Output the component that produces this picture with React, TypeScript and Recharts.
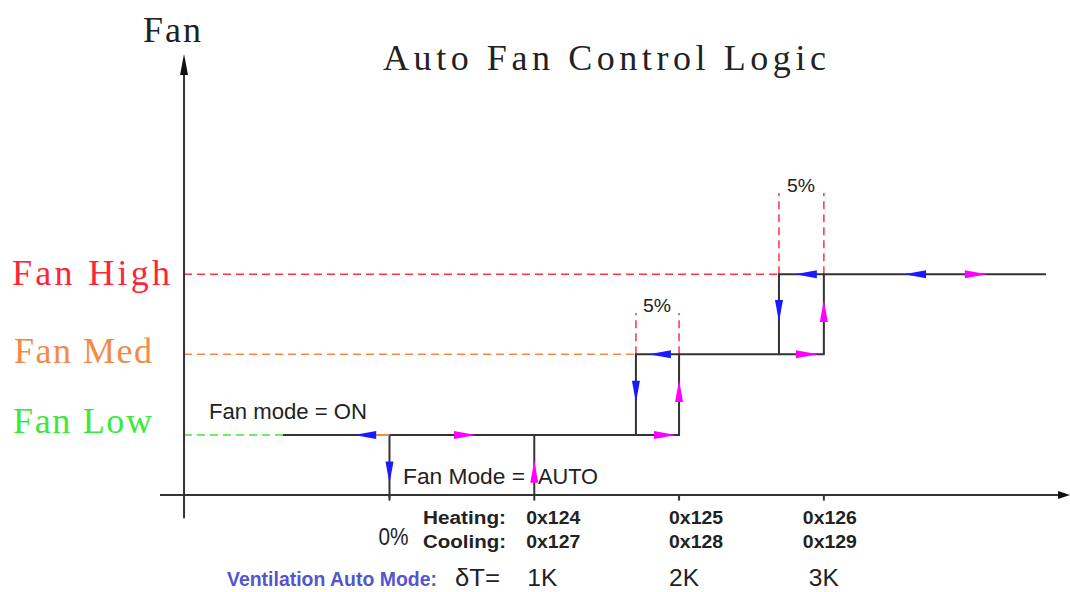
import React from "react";
import { LineChart, Line, XAxis, YAxis, ReferenceLine, ReferenceDot } from "recharts";

// fan levels (y) and switching points (x, in K of deltaT)
const LOW = 0.75;
const MED = 1.76;
const HIGH = 2.76;
const Y_AXIS_X = -1.419;
const HYST_MED = 1.702;
const HYST_HIGH = 2.69;

const levelNames = ["Fan Low", "Fan Med", "Fan High"];
const levelValues = [LOW, MED, HIGH];
const levelColors = ["#3ce83c", "#f58a48", "#ff2438"];

const tickValues = [0, 1, 2, 3];
const heatingRegs = ["0x124", "0x125", "0x126"];
const coolingRegs = ["0x127", "0x128", "0x129"];
const deltaLabels = ["1K", "2K", "3K"];

// black step paths
const onPath = [
    { x: -0.735, y: LOW }, { x: 2, y: LOW }, { x: 2, y: MED },
    { x: 3, y: MED }, { x: 3, y: HIGH }, { x: 4.534, y: HIGH },
];
const medDownPath = [{ x: HYST_MED, y: LOW }, { x: HYST_MED, y: MED }, { x: 2, y: MED }];
const highDownPath = [{ x: HYST_HIGH, y: MED }, { x: HYST_HIGH, y: HIGH }, { x: 3, y: HIGH }];
const autoOffPath = [{ x: 0, y: LOW }, { x: 0, y: -0.03 }];
const autoOnPath = [{ x: 1, y: 0 }, { x: 1, y: LOW }];
const orangeBit = [{ x: -0.093, y: LOW }, { x: 0, y: LOW }];
const xAxisPath = [{ x: -1.585, y: 0 }, { x: 4.63, y: 0 }];
const yAxisPath = [{ x: Y_AXIS_X, y: -0.29 }, { x: Y_AXIS_X, y: 5.26 }];

const blueArrows = [
    { x: -0.168, y: LOW, dir: "left" },
    { x: 0, y: 0.28, dir: "down" },
    { x: HYST_MED, y: 1.29, dir: "down" },
    { x: 1.868, y: MED, dir: "left" },
    { x: HYST_HIGH, y: 2.3, dir: "down" },
    { x: 2.876, y: HIGH, dir: "left" },
    { x: 3.63, y: HIGH, dir: "left" },
];
const magentaArrows = [
    { x: 0.521, y: LOW, dir: "right" },
    { x: 1, y: 0.29, dir: "up" },
    { x: 1.903, y: LOW, dir: "right" },
    { x: 2, y: 1.3, dir: "up" },
    { x: 2.883, y: MED, dir: "right" },
    { x: 3, y: 2.3, dir: "up" },
    { x: 4.05, y: HIGH, dir: "right" },
];

const SERIF = "'Liberation Serif', 'DejaVu Serif', serif";
const SANS = "'Liberation Sans', Arial, sans-serif";

function Arrow({ cx, cy, dir, color, len = 22, half = 4 }: any) {
    const l = len / 2;
    let pts = "";
    if (dir === "right") pts = `${cx + l},${cy} ${cx - l},${cy - half} ${cx - l},${cy + half}`;
    if (dir === "left") pts = `${cx - l},${cy} ${cx + l},${cy - half} ${cx + l},${cy + half}`;
    if (dir === "up") pts = `${cx},${cy - l} ${cx - half},${cy + l} ${cx + half},${cy + l}`;
    if (dir === "down") pts = `${cx},${cy + l} ${cx - half},${cy - l} ${cx + half},${cy - l}`;
    return <polygon points={pts} fill={color} />;
}

const labelOffsets = [-8, -10, -21];
const deltaOffsets = [-7, -10, -15];

export default function App() {
    const lineProps = {
        dataKey: "y",
        stroke: "#333",
        strokeWidth: 2,
        dot: false,
        activeDot: false,
        isAnimationActive: false,
        type: "linear" as const,
    };
    const dash = { strokeDasharray: "8 5", strokeWidth: 1.5, ifOverflow: "visible" as const };

    return (
        <div style={{ position: "absolute", left: 0, top: 0, width: 1070, height: 592, background: "#fff" }}>
            <LineChart width={1070} height={592} margin={{ top: 0, right: 0, bottom: 0, left: 0 }}>
                <XAxis dataKey="x" type="number" domain={[-2.69, 4.7]} allowDataOverflow hide />
                <YAxis type="number" domain={[-1.2125, 6.1875]} allowDataOverflow hide />

                {/* dashed guides */}
                <ReferenceLine segment={[{ x: Y_AXIS_X, y: HIGH }, { x: HYST_HIGH, y: HIGH }]} stroke="#ff3344" {...dash} />
                <ReferenceLine segment={[{ x: Y_AXIS_X, y: MED }, { x: HYST_MED, y: MED }]} stroke="#f58a48" {...dash} />
                <ReferenceLine segment={[{ x: Y_AXIS_X, y: LOW }, { x: -0.735, y: LOW }]} stroke="#3ce83c" {...dash} />
                <ReferenceLine segment={[{ x: HYST_MED, y: MED }, { x: HYST_MED, y: 2.275 }]} stroke="#ff3344" {...dash} />
                <ReferenceLine segment={[{ x: 2, y: MED }, { x: 2, y: 2.275 }]} stroke="#ff3344" {...dash} />
                <ReferenceLine segment={[{ x: HYST_HIGH, y: HIGH }, { x: HYST_HIGH, y: 3.775 }]} stroke="#ff3344" {...dash} />
                <ReferenceLine segment={[{ x: 3, y: HIGH }, { x: 3, y: 3.775 }]} stroke="#ff3344" {...dash} />

                {/* axes */}
                <Line data={xAxisPath} {...lineProps} />
                <Line data={yAxisPath} {...lineProps} />
                {tickValues.map((t) => (
                    <ReferenceLine key={t} segment={[{ x: t, y: 0 }, { x: t, y: -0.07 }]} stroke="#333" strokeWidth={2} />
                ))}

                {/* control logic */}
                <Line data={onPath} {...lineProps} />
                <Line data={medDownPath} {...lineProps} />
                <Line data={highDownPath} {...lineProps} />
                <Line data={autoOffPath} {...lineProps} />
                <Line data={autoOnPath} {...lineProps} />
                <Line data={orangeBit} {...lineProps} stroke="#f58a48" />

                {blueArrows.map((a, i) => (
                    <ReferenceDot key={"b" + i} x={a.x} y={a.y} shape={(p: any) => <Arrow cx={p.cx} cy={p.cy} dir={a.dir} color="#1a1aff" />} />
                ))}
                {magentaArrows.map((a, i) => (
                    <ReferenceDot key={"m" + i} x={a.x} y={a.y} shape={(p: any) => <Arrow cx={p.cx} cy={p.cy} dir={a.dir} color="#ff00ff" />} />
                ))}
                <ReferenceDot x={Y_AXIS_X} y={5.38} shape={(p: any) => <Arrow cx={p.cx} cy={p.cy} dir="up" color="#111" len={21} half={4} />} />
                <ReferenceDot x={4.659} y={0} shape={(p: any) => <Arrow cx={p.cx} cy={p.cy} dir="right" color="#111" len={12} half={4} />} />

                {/* level labels */}
                {levelNames.map((name, i) => (
                    <ReferenceDot
                        key={name}
                        x={Y_AXIS_X}
                        y={levelValues[i]}
                        shape={(p: any) => (
                            <text
                                x={[13, 14, 12][i]}
                                y={p.cy + [-2, 9, 11][i]}
                                fontFamily={SERIF}
                                fontSize={36}
                                fill={levelColors[i]}
                                textLength={[139, 138, 158][i]}
                                lengthAdjust="spacing"
                            >
                                {name}
                            </text>
                        )}
                    />
                ))}

                {/* tick labels */}
                <ReferenceDot x={0} y={0} shape={(p: any) => (
                    <text x={p.cx - 11} y={p.cy + 50} fontFamily={SANS} fontSize={24} fill="#222" textLength={30} lengthAdjust="spacingAndGlyphs">0%</text>
                )} />
                {heatingRegs.map((h, i) => (
                    <ReferenceDot key={h} x={tickValues[i + 1]} y={0} shape={(p: any) => (
                        <g fontFamily={SANS} fontSize={18} fontWeight="bold" fill="#222">
                            <text x={p.cx + labelOffsets[i]} y={p.cy + 29} textLength={54} lengthAdjust="spacingAndGlyphs">{h}</text>
                            <text x={p.cx + labelOffsets[i]} y={p.cy + 53} textLength={54} lengthAdjust="spacingAndGlyphs">{coolingRegs[i]}</text>
                            <text x={p.cx + deltaOffsets[i]} y={p.cy + 91} fontWeight="normal" fontSize={24} textLength={30} lengthAdjust="spacingAndGlyphs">{deltaLabels[i]}</text>
                        </g>
                    )} />
                ))}

                {/* free text */}
                <g fill="#222">
                    <text x={143} y={42} fontFamily={SERIF} fontSize={36} textLength={58} lengthAdjust="spacing">Fan</text>
                    <text x={383} y={70} fontFamily={SERIF} fontSize={36} textLength={443} lengthAdjust="spacing">Auto Fan Control Logic</text>
                    <text x={209} y={419} fontFamily={SANS} fontSize={22} textLength={158} lengthAdjust="spacingAndGlyphs">Fan mode = ON</text>
                    <text x={403} y={484} fontFamily={SANS} fontSize={22} textLength={122} lengthAdjust="spacingAndGlyphs">Fan Mode =</text>
                    <text x={538} y={484} fontFamily={SANS} fontSize={22} textLength={60} lengthAdjust="spacingAndGlyphs">AUTO</text>
                    <text x={643} y={312} fontFamily={SANS} fontSize={19} textLength={28} lengthAdjust="spacingAndGlyphs">5%</text>
                    <text x={787} y={192} fontFamily={SANS} fontSize={19} textLength={28} lengthAdjust="spacingAndGlyphs">5%</text>
                    <text x={423} y={524} fontFamily={SANS} fontSize={18} fontWeight="bold" textLength={83} lengthAdjust="spacingAndGlyphs">Heating:</text>
                    <text x={423} y={548} fontFamily={SANS} fontSize={18} fontWeight="bold" textLength={83} lengthAdjust="spacingAndGlyphs">Cooling:</text>
                    <text x={227} y={586} fontFamily={SANS} fontSize={21} fontWeight="bold" fill="#5555cc" textLength={210} lengthAdjust="spacingAndGlyphs">Ventilation Auto Mode:</text>
                    <text x={455} y={586} fontFamily={SANS} fontSize={24} textLength={45} lengthAdjust="spacingAndGlyphs">δT=</text>
                </g>
            </LineChart>
        </div>
    );
}
